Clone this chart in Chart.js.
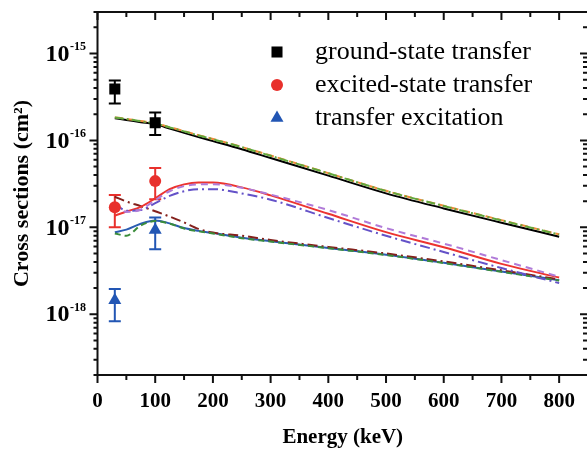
<!DOCTYPE html>
<html>
<head>
<meta charset="utf-8">
<title>Cross sections</title>
<style>
  html, body { margin: 0; padding: 0; overflow: hidden; background: #fff; }
  #wrap { width: 600px; height: 450px; }
</style>
</head>
<body>
<div id="wrap"><canvas id="chart" width="600" height="450"></canvas></div>
<script src="https://cdn.jsdelivr.net/npm/chart.js"></script>
<script>
// Experimental points (keV, cm^2) with error bar ends
const expEnergy = [30, 100];
const groundExp = [3.9e-16, 1.6e-16];
const groundExpLo = [2.65e-16, 1.15e-16];
const groundExpHi = [4.9e-16, 2.1e-16];
const excitedExp = [1.7e-17, 3.4e-17];
const excitedExpLo = [1.0e-17, 2.1e-17];
const excitedExpHi = [2.35e-17, 4.8e-17];
const transExp = [1.45e-18, 9.3e-18];
const transExpLo = [8.3e-19, 5.6e-18];
const transExpHi = [1.95e-18, 1.3e-17];

// Theory curves, all on the same energy grid
const energy = [30, 50, 75, 100, 125, 150, 175, 200, 250, 300, 400, 500, 600, 700, 800];
const groundSolid = [1.80e-16, 1.72e-16, 1.62e-16, 1.53e-16, 1.37e-16, 1.22e-16, 1.09e-16, 9.8e-17, 7.9e-17, 6.26e-17, 3.93e-17, 2.46e-17, 1.65e-17, 1.13e-17, 7.8e-18];
const groundDash = [1.84e-16, 1.77e-16, 1.67e-16, 1.58e-16, 1.42e-16, 1.28e-16, 1.15e-16, 1.04e-16, 8.4e-17, 6.7e-17, 4.2e-17, 2.63e-17, 1.77e-17, 1.21e-17, 8.3e-18];
const groundDashDot = [1.83e-16, 1.76e-16, 1.66e-16, 1.57e-16, 1.41e-16, 1.27e-16, 1.14e-16, 1.03e-16, 8.35e-17, 6.65e-17, 4.18e-17, 2.62e-17, 1.76e-17, 1.2e-17, 8.25e-18];
const excitedSolid = [1.36e-17, 1.52e-17, 1.72e-17, 2.15e-17, 2.75e-17, 3.12e-17, 3.28e-17, 3.27e-17, 2.88e-17, 2.33e-17, 1.43e-17, 8.8e-18, 5.9e-18, 3.8e-18, 2.64e-18];
const excitedDash = [1.9e-17, 1.5e-17, 1.6e-17, 2.05e-17, 2.6e-17, 2.98e-17, 3.12e-17, 3.13e-17, 2.85e-17, 2.38e-17, 1.58e-17, 9.8e-18, 6.5e-18, 4.2e-18, 2.7e-18];
const excitedDashDot = [1.9e-17, 1.55e-17, 1.58e-17, 1.9e-17, 2.3e-17, 2.6e-17, 2.75e-17, 2.75e-17, 2.45e-17, 2.08e-17, 1.28e-17, 8.0e-18, 5.2e-18, 3.4e-18, 2.28e-18];
const excitationDashDot = [2.25e-17, 1.98e-17, 1.75e-17, 1.53e-17, 1.33e-17, 1.14e-17, 9.6e-18, 8.7e-18, 8.0e-18, 7.15e-18, 5.95e-18, 5.0e-18, 4.05e-18, 3.2e-18, 2.52e-18];
const excitationSolid = [8.8e-18, 9.4e-18, 1.1e-17, 1.2e-17, 1.11e-17, 9.8e-18, 9.1e-18, 8.6e-18, 7.6e-18, 6.92e-18, 5.79e-18, 4.85e-18, 3.91e-18, 3.1e-18, 2.46e-18];
const excitationDash = [8.5e-18, 8.0e-18, 1.05e-17, 1.18e-17, 1.1e-17, 9.7e-18, 9.0e-18, 8.5e-18, 7.5e-18, 6.85e-18, 5.75e-18, 4.8e-18, 3.88e-18, 3.08e-18, 2.44e-18];

const xTicks = [0, 100, 200, 300, 400, 500, 600, 700, 800];
const yDecades = [-15, -16, -17, -18];

const serif = "'Liberation Serif', 'Times New Roman', serif";

function pts(xs, ys) {
  return xs.map((x, i) => ({ x: x, y: ys[i] }));
}

function expSet(label, ys, lo, hi, color, style, radius) {
  return {
    label: label, data: pts(expEnergy, ys), errLo: lo, errHi: hi,
    showLine: false, pointStyle: style, pointRadius: radius,
    backgroundColor: color, borderColor: color, pointBorderWidth: 0
  };
}

function curve(ys, color, dash) {
  return {
    data: pts(energy, ys), borderColor: color, borderWidth: 2,
    borderDash: dash || [], pointRadius: 0, fill: false,
    cubicInterpolationMode: 'monotone'
  };
}

const datasets = [
  expSet('ground-state transfer', groundExp, groundExpLo, groundExpHi, '#000000', 'rect', 7.8),
  expSet('excited-state transfer', excitedExp, excitedExpLo, excitedExpHi, '#e8302c', 'circle', 6),
  expSet('transfer excitation', transExp, transExpLo, transExpHi, '#2256b4', 'triangle', 7.5),
  curve(groundDashDot, '#62a83e', [9, 3, 2, 3]),
  curve(groundDash, '#f08a3a', [8, 4]),
  curve(groundSolid, '#000000'),
  curve(excitedDash, '#b07ad8', [7, 5]),
  curve(excitedDashDot, '#6452c8', [10, 4, 2, 4]),
  curve(excitedSolid, '#ec3430'),
  curve(excitationDash, '#3a8c3a', [6, 4]),
  curve(excitationDashDot, '#84201c', [10, 4, 2, 4]),
  curve(excitationSolid, '#2a5cb2')
];

// Error bars for the measured points
const errorBars = {
  id: 'errorBars',
  beforeDatasetsDraw(chart) {
    const { ctx, scales: { x, y } } = chart;
    ctx.save();
    ctx.lineWidth = 2;
    chart.data.datasets.forEach((ds) => {
      if (!ds.errLo) return;
      ctx.strokeStyle = ds.borderColor;
      ds.data.forEach((p, i) => {
        const px = x.getPixelForValue(p.x);
        const top = y.getPixelForValue(ds.errHi[i]);
        const bot = y.getPixelForValue(ds.errLo[i]);
        ctx.beginPath();
        ctx.moveTo(px, top); ctx.lineTo(px, bot);
        ctx.moveTo(px - 6, top); ctx.lineTo(px + 6, top);
        ctx.moveTo(px - 6, bot); ctx.lineTo(px + 6, bot);
        ctx.stroke();
      });
    });
    ctx.restore();
  }
};

// Box frame, inner/outer ticks, power-of-ten labels and legend
const decor = {
  id: 'decor',
  afterDraw(chart) {
    const { ctx, chartArea: a, scales: { x, y } } = chart;
    ctx.save();
    ctx.strokeStyle = '#111';
    ctx.lineWidth = 2;
    ctx.strokeRect(a.left, a.top, a.right - a.left, a.bottom - a.top);

    ctx.beginPath();
    for (let v = 0; v <= x.max; v += 50) {
      const px = x.getPixelForValue(v);
      const len = xTicks.includes(v) ? 8 : 5;
      ctx.moveTo(px, a.bottom); ctx.lineTo(px, a.bottom + len);
      ctx.moveTo(px, a.top); ctx.lineTo(px, a.top + len);
    }
    for (let e = -19; e <= -15; e++) {
      for (let k = 1; k <= 9; k++) {
        const v = k * Math.pow(10, e);
        if (v < y.min * 0.999 || v > y.max * 1.001) continue;
        const py = y.getPixelForValue(v);
        const major = k === 1;
        ctx.moveTo(a.left, py); ctx.lineTo(a.left - (major ? 8 : 4), py);
        ctx.moveTo(a.right, py); ctx.lineTo(a.right - (major ? 8 : 5), py);
      }
    }
    ctx.stroke();

    ctx.fillStyle = '#000';
    yDecades.forEach((e) => {
      const py = y.getPixelForValue(Math.pow(10, e));
      const sup = String(e);
      ctx.font = 'bold 12px ' + serif;
      ctx.textAlign = 'right';
      ctx.textBaseline = 'alphabetic';
      const w = ctx.measureText(sup).width;
      ctx.fillText(sup, 86, py - 3);
      ctx.font = 'bold 24px ' + serif;
      ctx.textBaseline = 'middle';
      ctx.fillText('10', 86 - w - 0.5, py + 1);
    });

    // legend for the measured data
    const helpers = Chart.helpers;
    chart.data.datasets.slice(0, 3).forEach((ds, i) => {
      const ly = 52 + i * 33;
      ctx.fillStyle = ds.backgroundColor;
      ctx.strokeStyle = ds.backgroundColor;
      ctx.lineWidth = 0;
      helpers.drawPoint(ctx, { pointStyle: ds.pointStyle, radius: ds.pointRadius, borderWidth: 0 }, 277, ly);
      ctx.fillStyle = '#000';
      ctx.font = '26px ' + serif;
      ctx.textAlign = 'left';
      ctx.textBaseline = 'middle';
      ctx.fillText(ds.label, 315, ly);
    });
    ctx.restore();
  }
};

new Chart(document.getElementById('chart').getContext('2d'), {
  type: 'line',
  data: { datasets: datasets },
  plugins: [errorBars, decor],
  options: {
    responsive: false,
    animation: false,
    layout: { padding: { top: 12, right: 12, left: 0, bottom: 0 } },
    plugins: { legend: { display: false }, tooltip: { enabled: false } },
    scales: {
      x: {
        type: 'linear', min: 0, max: 850,
        grid: { display: false, drawTicks: false },
        border: { display: false },
        afterFit: (s) => { s.height = 75; },
        afterBuildTicks: (s) => { s.ticks = xTicks.map((v) => ({ value: v })); },
        ticks: {
          color: '#000', padding: 14, maxRotation: 0, autoSkip: false,
          font: { family: serif, size: 21, weight: 'bold' }
        },
        title: {
          display: true, text: 'Energy (keV)', color: '#000',
          font: { family: serif, size: 21, weight: 'bold' },
          padding: { top: 0, bottom: 0 }
        }
      },
      y: {
        type: 'logarithmic', min: 2e-19, max: 3e-15,
        grid: { display: false, drawTicks: false },
        border: { display: false },
        ticks: { display: false },
        afterFit: (s) => { s.width = 97.5; },
        title: {
          display: true, text: 'Cross sections (cm²)', color: '#000',
          font: { family: serif, size: 22, weight: 'bold' },
          padding: { top: 9, bottom: 0 }
        }
      }
    }
  }
});
</script>
</body>
</html>
